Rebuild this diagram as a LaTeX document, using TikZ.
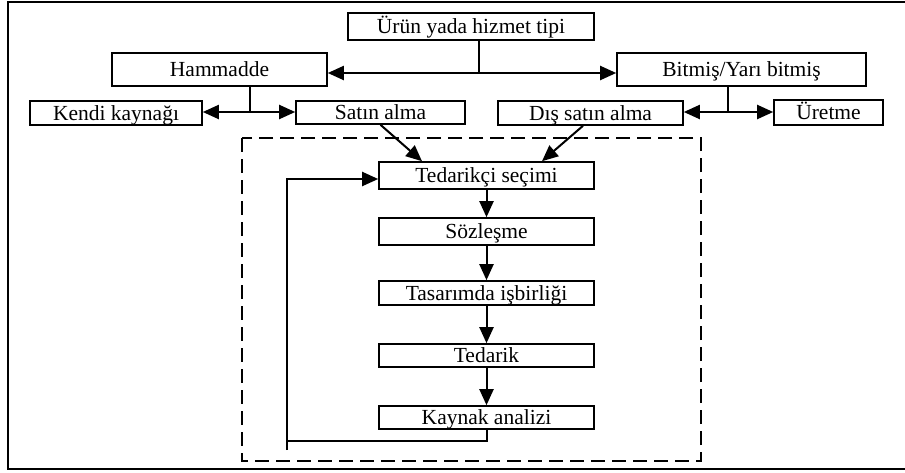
\documentclass[tikz,border=0pt]{standalone}
\usepackage{fontspec}
\setmainfont{Liberation Serif}
\usetikzlibrary{arrows.meta,calc}
\begin{document}
\begin{tikzpicture}[x=1pt,y=-1pt,
  box/.style={draw,line width=1.6pt,inner sep=0pt,font=\fontsize{21.5}{24}\selectfont,text height=14pt,text depth=0pt},
  con/.style={line width=2pt},
  arr/.style={line width=2pt,-{Triangle[length=16pt,width=14pt]}}]
\useasboundingbox (0,0) rectangle (905,472);
% outer frame (right edge lies outside the picture)
\draw[line width=2.4pt] (910,2) -- (8,2) -- (8,469) -- (910,469);
% dashed frame
\draw[line width=1.8pt,dash pattern=on 14pt off 7pt] (242,138) rectangle (701,461);
% boxes
\node[box,minimum width=246,minimum height=27] (urun) at (471,26.5) {Ürün yada hizmet tipi};
\node[box,minimum width=215,minimum height=33] (ham) at (219.5,69.5) {Hammadde};
\node[box,minimum width=249,minimum height=33] (bit) at (741.5,69.5) {Bitmiş/Yarı bitmiş};
\node[box,minimum width=172,minimum height=24] (kendi) at (116,113) {Kendi kaynağı};
\node[box,minimum width=169,minimum height=23] (satin) at (380.5,112.5) {Satın alma};
\node[box,minimum width=185,minimum height=24] (dis) at (590.5,113) {Dış satın alma};
\node[box,minimum width=109,minimum height=25] (uret) at (828.5,112.5) {Üretme};
\node[box,minimum width=215,minimum height=27] (ted) at (486.5,175.5) {Tedarikçi seçimi};
\node[box,minimum width=215,minimum height=27] (soz) at (486.5,231.5) {Sözleşme};
\node[box,minimum width=215,minimum height=24] (tas) at (486.5,293) {Tasarımda işbirliği};
\node[box,minimum width=215,minimum height=23] (tedk) at (486.5,355.5) {Tedarik};
\node[box,minimum width=215,minimum height=23] (kay) at (486.5,417.5) {Kaynak analizi};
% junctions
\coordinate (j1) at (479,73);
\coordinate (j2) at (250,112);
\coordinate (j3) at (728,112);
\coordinate (fbc) at (287,441);
\coordinate (fbs) at (287,450);
% top split
\draw[con] (urun.south -| j1) -- (j1);
\draw[arr] (j1) -- (ham.east |- j1);
\draw[arr] (j1) -- (bit.west |- j1);
\draw[con] (ham.south -| j2) -- (j2);
\draw[arr] (j2) -- (kendi.east |- j2);
\draw[arr] (j2) -- (satin.west |- j2);
\draw[con] (bit.south -| j3) -- (j3);
\draw[arr] (j3) -- (dis.east |- j3);
\draw[arr] (j3) -- (uret.west |- j3);
% into the process
\draw[arr] (satin.south) -- ($(ted.north)+(-64.5,0)$);
\draw[arr] ($(dis.south)+(-7.5,0)$) -- ($(ted.north)+(55.5,0)$);
\draw[arr] (ted) -- (soz);
\draw[arr] (soz) -- (tas);
\draw[arr] (tas) -- (tedk);
\draw[arr] (tedk) -- (kay);
% feedback
\draw[con] (kay.south) |- (fbc);
\draw[arr] (fbs) |- ($(ted.west)+(0,3.5)$);
\end{tikzpicture}
\end{document}
